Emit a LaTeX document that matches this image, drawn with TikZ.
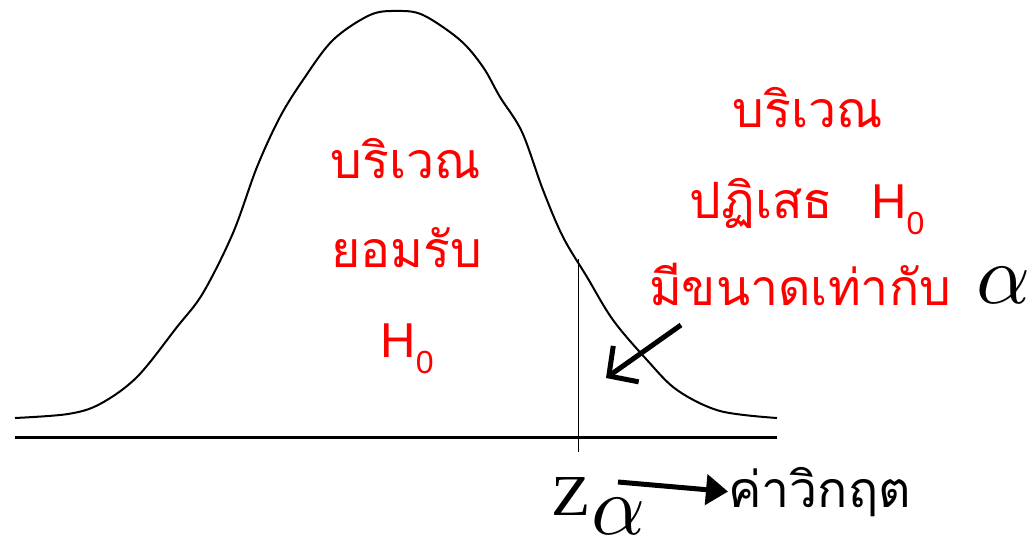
\documentclass[tikz,border=0pt]{standalone}
\usepackage{graphicx}
\usepackage{fontspec}
\setmainfont{Liberation Serif}
\newfontfamily\thaifont[Script=Thai]{Loma}
\newfontfamily\labelfont{Liberation Sans}
\usetikzlibrary{arrows.meta}
\definecolor{regionred}{HTML}{FF0000}
\newcommand{\Hnull}{{\labelfont H\raisebox{-0.33em}{\fontsize{32}{32}\selectfont 0}}}
\newcommand{\bigalpha}{\scalebox{8.4}{$\alpha$}}

\begin{document}
\begin{tikzpicture}[x=1pt, y=-1pt, line cap=butt,
    thai/.style={font={\thaifont\fontsize{50}{60}\selectfont}, text=regionred, anchor=base, inner sep=0pt},
    hlabel/.style={font={\labelfont\fontsize{49}{60}\selectfont}, text=regionred, anchor=base, inner sep=0pt},
    bigmath/.style={anchor=base west, inner sep=0pt}]
  \useasboundingbox (0,0) rectangle (1033,543);
  % axis and bell curve
  \draw[line width=3pt] (15,437) -- (777,437);
  \draw[line width=2pt] plot[smooth, tension=0.55] coordinates {
    (15,418) (68,414) (100,404) (137,377) (177,327) (203,293) (233,233)
    (257,167) (280,117) (303,80) (333,40) (370,15) (397,11) (423,15)
    (460,40) (483,67) (500,97) (522,132) (543,190) (563,237) (587,277)
    (613,320) (647,360) (677,390) (720,411) (777,418)};
  \coordinate (cut) at (578,259);
  \coordinate (tick) at (578,452);
  \draw[line width=1pt] (cut) -- (tick);
  % acceptance region
  \node[thai] (acc1) at (406,178) {บริเวณ};
  \node[thai] (acc2) at (407,267) {ยอมรับ};
  \node[hlabel] (acc3) at (407,357) {\Hnull};
  % rejection region
  \node[thai] (rej1) at (808,127) {บริเวณ};
  \node[thai] (rej2) at (807,218) {ปฏิเสธ\hspace{38pt}{\fontsize{49}{60}\selectfont\Hnull}};
  \node[thai] (rej3) at (800,305) {มีขนาดเท่ากับ};
  \node[bigmath] (alpha) at (976,303) {\bigalpha};
  \coordinate (pointer) at (681,325);
  \coordinate (tail) at (606,378);
  \draw[line width=5pt, -{Straight Barb[length=21pt, width=44pt]}] (pointer) -- (tail);
  % critical value
  \node[anchor=base west, inner sep=0pt] (zval) at (551,515) {\scalebox{6.4}[5.8]{Z}};
  \node[bigmath] (zsub) at (591,534) {\bigalpha};
  \node[font={\thaifont\fontsize{50}{60}\selectfont}, anchor=base west, inner sep=0pt] (crit) at (728,507) {ค่าวิกฤต};
  \coordinate (zarrow) at (618,482);
  \draw[line width=5pt, -{Triangle[length=22pt, width=30pt]}] (zarrow) -- (crit.west);
\end{tikzpicture}
\end{document}
